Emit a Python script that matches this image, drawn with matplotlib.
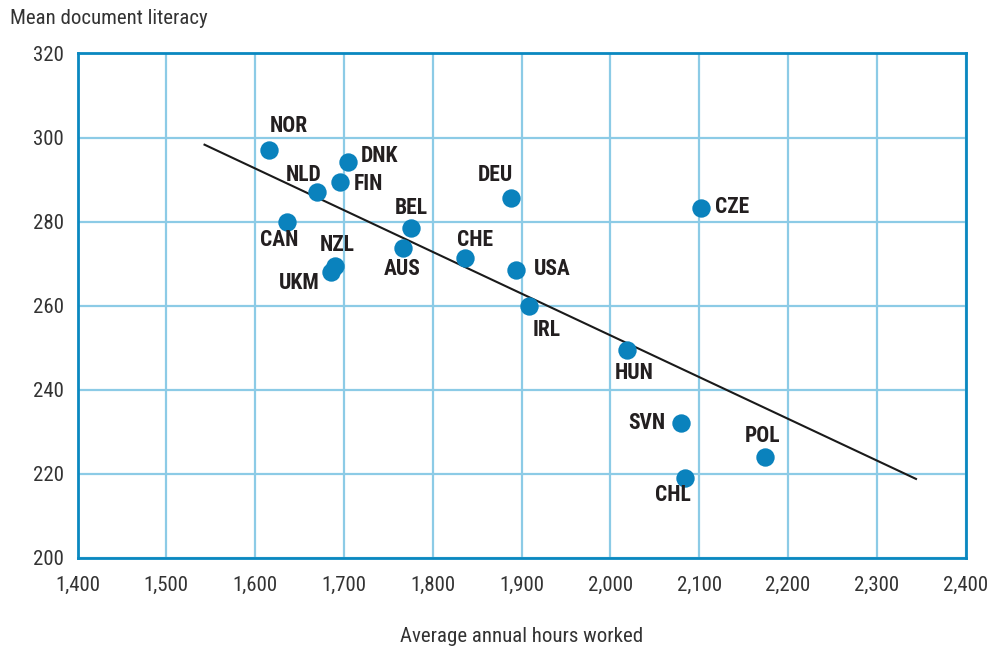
import matplotlib
matplotlib.use('Agg')
import matplotlib.pyplot as plt
from matplotlib.ticker import FuncFormatter

plt.rcParams['font.family'] = ['Roboto Condensed', 'DejaVu Sans']

countries = ['NOR', 'DNK', 'NLD', 'FIN', 'CAN', 'BEL', 'AUS', 'NZL', 'UKM', 'CHE',
             'DEU', 'USA', 'IRL', 'CZE', 'HUN', 'SVN', 'POL', 'CHL']
hours = [1616, 1704, 1670, 1696, 1636, 1776, 1767, 1690, 1685, 1836,
         1888, 1894, 1908, 2102, 2019, 2079, 2174, 2084]
literacy = [297.1, 294.2, 287.1, 289.5, 279.9, 278.5, 273.7, 269.4, 268.0, 271.3,
            285.6, 268.4, 259.9, 283.2, 249.4, 232.2, 224.1, 219.0]
trend_x = [1543, 2344]
trend_y = [298.3, 218.8]

# label placement (pixel offsets from each point)
offsets = {
    'NOR': (19, 24), 'DNK': (32, 6), 'NLD': (-14, 17), 'FIN': (28, -2),
    'CAN': (-8, -18), 'BEL': (0, 20), 'AUS': (-1, -21), 'NZL': (2, 21),
    'UKM': (-31, -11), 'CHE': (10, 18), 'DEU': (-16, 23), 'USA': (36, 1),
    'IRL': (18, -24), 'CZE': (31, 1), 'HUN': (7, -23), 'SVN': (-34, 0),
    'POL': (-3, 21), 'CHL': (-12, -17),
}

BLUE = '#0a88c0'
GRID = '#8ccbe6'
DOT = '#0a82bd'
TXT = '#231f20'

fig = plt.figure(figsize=(9.95, 6.51), dpi=100)
ax = fig.add_axes([0.0779, 0.1429, 0.8927, 0.775])

ax.set_xlim(1400, 2400)
ax.set_ylim(200, 320)
ax.set_xticks(range(1400, 2401, 100))
ax.set_yticks(range(200, 321, 20))
ax.xaxis.set_major_formatter(FuncFormatter(lambda v, p: f'{int(v):,}'))
ax.grid(True, color=GRID, linewidth=1.6)
ax.set_axisbelow(True)
for sp in ax.spines.values():
    sp.set_color(BLUE)
    sp.set_linewidth(2.0)
ax.tick_params(length=0, labelsize=15, colors='#333333', pad=10)
ax.tick_params(axis='x', pad=13)

ax.plot(trend_x, trend_y, color='#1a1a1a', linewidth=1.5, zorder=3)
ax.scatter(hours, literacy, s=175, color=DOT, zorder=4, linewidths=0)

for c, x, y in zip(countries, hours, literacy):
    dx, dy = offsets[c]
    ax.annotate(c, (x, y), xytext=(dx, dy), textcoords='offset pixels',
                ha='center', va='center', fontsize=15.5, fontweight='bold',
                color=TXT, zorder=5)

fig.text(10 / 995, 1 - 18 / 651, 'Mean document literacy', ha='left', va='center',
         fontsize=15, color='#333333')
fig.text(522 / 995, 1 - 637 / 651, 'Average annual hours worked', ha='center',
         va='center', fontsize=15, color='#333333')

fig.savefig('out.png', dpi=100)
